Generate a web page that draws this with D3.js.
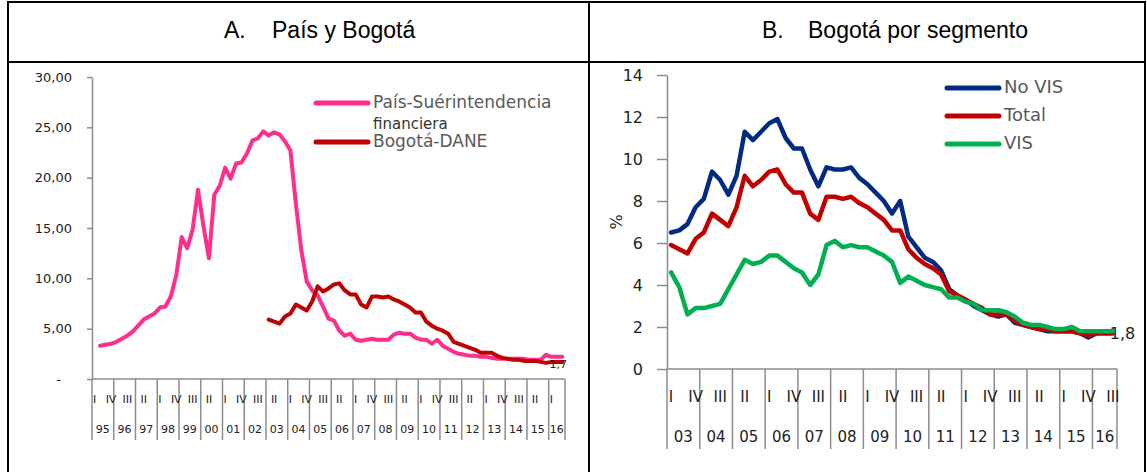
<!DOCTYPE html>
<html>
<head>
<meta charset="utf-8">
<script src="https://cdn.jsdelivr.net/npm/d3@7"></script>
<style>
  body { margin: 0; background: #fff; }
  text { font-family: "DejaVu Sans", sans-serif; }
  text.head { font-family: "Liberation Sans Narrow", "Arial Narrow", "Liberation Sans", Arial, sans-serif; }
</style>
</head>
<body>
<svg id="chart" width="1147" height="472"></svg>
<script>
// A. País y Bogotá, quarterly 1995-I .. 2016-III
const paisSuper = [
    null, 3.3, 3.4, 3.5, 3.7, 4.0, 4.3, 4.7, 5.3, 5.9,
    6.2, 6.5, 7.1, 7.2, 8.2, 10.3, 14.1, 13.0, 14.8, 18.8,
    15.2, 12.0, 18.3, 19.2, 21.0, 19.9, 21.4, 21.5, 22.4, 23.7,
    23.9, 24.6, 24.2, 24.5, 24.3, 23.6, 22.7, 17.4, 12.8, 9.7,
    8.8, 8.3, 7.2, 6.0, 5.8, 4.8, 4.3, 4.5, 3.9, 3.8,
    3.9, 4.0, 3.9, 3.9, 3.9, 4.4, 4.6, 4.5, 4.5, 4.1,
    3.9, 3.9, 3.5, 3.9, 3.3, 3.0, 2.7, 2.5, 2.4, 2.3,
    2.3, 2.2, 2.2, 2.1, 2.0, 2.0, 2.0, 2.0, 2.0, 2.0,
    1.9, 1.9, 1.9, 2.4, 2.2, 2.2, 2.2
]
// B. Bogotá por segmento, quarterly 2003-I .. 2016-III
const total = [
    5.9, 5.7, 5.5, 6.2, 6.5, 7.4, 7.1, 6.8, 7.7, 9.2,
    8.7, 9.0, 9.4, 9.5, 8.8, 8.4, 8.4, 7.4, 7.1, 8.2,
    8.2, 8.1, 8.2, 7.9, 7.7, 7.4, 7.1, 6.6, 6.6, 5.7,
    5.3, 5.0, 4.8, 4.5, 3.7, 3.5, 3.3, 3.1, 2.9, 2.6,
    2.6, 2.6, 2.3, 2.1, 2.0, 1.9, 1.9, 1.8, 1.8, 1.8,
    1.7, 1.6, 1.7, 1.7, 1.7
]
const noVis = [
    6.5, 6.6, 6.9, 7.7, 8.1, 9.4, 9.0, 8.3, 9.2, 11.3,
    10.9, 11.3, 11.7, 11.9, 11.0, 10.5, 10.5, 9.5, 8.7, 9.6,
    9.5, 9.5, 9.6, 9.1, 8.8, 8.4, 8.0, 7.4, 8.0, 6.3,
    5.8, 5.3, 5.1, 4.7, 3.8, 3.5, 3.3, 3.0, 2.8, 2.6,
    2.5, 2.6, 2.2, 2.1, 2.0, 1.9, 1.8, 1.8, 1.8, 1.8,
    1.7, 1.5, 1.7, 1.7, 1.7
]
const vis = [
    4.6, 3.9, 2.6, 2.9, 2.9, 3.0, 3.1, 3.8, 4.5, 5.2,
    5.0, 5.1, 5.4, 5.4, 5.1, 4.8, 4.6, 4.0, 4.5, 5.9,
    6.1, 5.8, 5.9, 5.8, 5.8, 5.6, 5.4, 5.1, 4.1, 4.4,
    4.2, 4.0, 3.9, 3.8, 3.4, 3.4, 3.2, 3.1, 2.8, 2.8,
    2.8, 2.7, 2.5, 2.2, 2.1, 2.1, 2.0, 1.9, 1.9, 2.0,
    1.8, 1.8, 1.8, 1.8, 1.8
]
// Bogotá-DANE in panel A is the same series as Total, starting 2003-I
const bogotaDaneStart = 32
const bogotaDane = paisSuper.map((d, i) => i >= bogotaDaneStart ? total[i - bogotaDaneStart] : null)

const quarterNames = ['I', 'II', 'III', 'IV']
const ticksA = [0, 5, 10, 15, 20, 25, 30]
const ticksB = [0, 2, 4, 6, 8, 10, 12, 14]

function quarters (startYear, count) {
    return d3.range(count).map(i => ({
        i,
        year: startYear + Math.floor(i / 4),
        q: i % 4
    }))
}
const quartersA = quarters(1995, paisSuper.length)
const quartersB = quarters(2003, total.length)

const svg = d3.select('#chart')

// table frame
const frame = svg.append('g').attr('class', 'g-frame')
    .attr('stroke', '#000').attr('stroke-width', 2)
frame.append('line').attr('x1', 8).attr('x2', 1146).attr('y1', 2).attr('y2', 2)
frame.append('line').attr('x1', 8).attr('x2', 1146).attr('y1', 62).attr('y2', 62)
frame.append('line').attr('x1', 8).attr('x2', 8).attr('y1', 1).attr('y2', 472)
frame.append('line').attr('x1', 589).attr('x2', 589).attr('y1', 1).attr('y2', 472)
frame.append('line').attr('x1', 1145).attr('x2', 1145).attr('y1', 1).attr('y2', 472)

const head = svg.append('g').attr('class', 'g-head')
const headItems = [
    { x: 224, t: 'A.' },
    { x: 272, t: 'País y Bogotá' },
    { x: 762, t: 'B.' },
    { x: 808, t: 'Bogotá por segmento' }
]
head.selectAll('text')
    .data(headItems)
    .enter()
    .append('text')
    .attr('class', 'head')
    .attr('x', d => d.x)
    .attr('y', 38)
    .style('font-size', '23px')
    .attr('fill', '#000')
    .text(d => d.t)

function drawCategoryAxis (g, x, qs, y0, y1, rowQ, rowY, fontSize) {
    const axis = g.append('g').attr('class', 'g-axis-x')
    axis.append('line')
        .attr('x1', x.range()[0]).attr('x2', x.range()[1])
        .attr('y1', y0).attr('y2', y0)
        .attr('stroke', '#8c8c8c').attr('stroke-width', 1.5)

    const yearStarts = qs.filter(d => d.q === 0)
    const seps = yearStarts.map(d => x(d.i)).concat([x.range()[1]])
    axis.selectAll('line.sep')
        .data(seps)
        .enter()
        .append('line')
        .attr('class', 'sep')
        .attr('x1', d => d).attr('x2', d => d)
        .attr('y1', y0).attr('y2', y1)
        .attr('stroke', '#8c8c8c').attr('stroke-width', 1.5)

    axis.selectAll('text.q-label')
        .data(qs.filter(d => d.i % 3 === 0))
        .enter()
        .append('text')
        .attr('class', 'q-label')
        .attr('x', d => x(d.i) + x.bandwidth() / 2)
        .attr('y', rowQ)
        .attr('text-anchor', 'middle')
        .attr('dominant-baseline', 'middle')
        .style('font-size', fontSize + 'px')
        .attr('fill', '#222')
        .text(d => quarterNames[d.q])

    axis.selectAll('text.y-label')
        .data(d3.groups(qs, d => d.year))
        .enter()
        .append('text')
        .attr('class', 'y-label')
        .attr('x', d => {
            const items = d[1]
            return (x(items[0].i) + x(items[items.length - 1].i) + x.bandwidth()) / 2
        })
        .attr('y', rowY)
        .attr('text-anchor', 'middle')
        .attr('dominant-baseline', 'middle')
        .style('font-size', fontSize + 'px')
        .attr('fill', '#222')
        .text(d => String(d[0] % 100).padStart(2, '0'))
}

function drawLegend (g, items, x, y0, step, fontSize) {
    const leg = g.append('g').attr('class', 'g-legend')
    items.forEach((d, k) => {
        const y = y0 + k * step
        leg.append('line')
            .attr('x1', x).attr('x2', x + 52)
            .attr('y1', y).attr('y2', y)
            .attr('stroke', d.color).attr('stroke-width', 5)
            .attr('stroke-linecap', 'round')
        leg.append('text')
            .attr('x', x + 57).attr('y', y)
            .attr('dominant-baseline', 'middle')
            .style('font-size', fontSize + 'px')
            .attr('fill', '#595959')
            .text(d.name)
    })
    return leg
}

// ---------- Panel A ----------
const gA = svg.append('g').attr('class', 'g-panel-a')
const xA = d3.scaleBand().domain(quartersA.map(d => d.i)).range([92, 565])
const yA = d3.scaleLinear().domain([0, 30]).range([379, 77])

const axisA = gA.append('g')
    .attr('transform', 'translate(92,0)')
    .call(d3.axisLeft(yA)
        .tickValues(ticksA)
        .tickSize(5)
        .tickSizeOuter(0)
        .tickPadding(15)
        .tickFormat(v => v === 0 ? '-' : d3.format('.2f')(v).replace('.', ',')))
axisA.select('.domain').attr('stroke', '#8c8c8c').attr('stroke-width', 1.5)
axisA.selectAll('.tick line').attr('stroke', '#8c8c8c').attr('stroke-width', 1.5)
axisA.selectAll('.tick text')
    .style('font-family', '"DejaVu Sans", sans-serif')
    .style('font-size', '13px')
    .attr('fill', '#222')
axisA.selectAll('.tick text').filter(d => d === 0).attr('dx', -11)

drawCategoryAxis(gA, xA, quartersA, 379, 440, 400, 430, 11)

const lineA = d3.line()
    .defined(d => d != null)
    .x((d, i) => xA(i) + xA.bandwidth() / 2)
    .y(d => yA(d))

gA.append('path').datum(paisSuper)
    .attr('fill', 'none').attr('stroke', '#ff2d8c').attr('stroke-width', 4)
    .attr('stroke-linejoin', 'round').attr('stroke-linecap', 'round')
    .attr('d', lineA)
gA.append('path').datum(bogotaDane)
    .attr('fill', 'none').attr('stroke', '#c00000').attr('stroke-width', 4)
    .attr('stroke-linejoin', 'round').attr('stroke-linecap', 'round')
    .attr('d', lineA)

gA.append('text')
    .attr('x', xA(bogotaDane.length - 1) - 10)
    .attr('y', yA(bogotaDane[bogotaDane.length - 1]) + 6)
    .style('font-size', '11px')
    .attr('fill', '#222')
    .text('1,7')

drawLegend(gA, [
    { name: 'País-Suérintendencia', color: '#ff2d8c' },
    { name: 'Bogotá-DANE', color: '#c00000' }
], 316, 103, 39, 17)
gA.append('text')
    .attr('x', 373).attr('y', 124)
    .attr('dominant-baseline', 'middle')
    .style('font-size', '15px')
    .attr('fill', '#333')
    .text('financiera')

// ---------- Panel B ----------
const gB = svg.append('g').attr('class', 'g-panel-b')
const xB = d3.scaleBand().domain(quartersB.map(d => d.i)).range([667, 1117])
const yB = d3.scaleLinear().domain([0, 14]).range([369, 75])

const axisB = gB.append('g')
    .attr('transform', 'translate(667,0)')
    .call(d3.axisLeft(yB)
        .tickValues(ticksB)
        .tickSize(10)
        .tickSizeOuter(0)
        .tickPadding(14)
        .tickFormat(d3.format('d')))
axisB.select('.domain').attr('stroke', '#8c8c8c').attr('stroke-width', 1.5)
axisB.selectAll('.tick line').attr('stroke', '#8c8c8c').attr('stroke-width', 1.5)
axisB.selectAll('.tick text')
    .style('font-family', '"DejaVu Sans", sans-serif')
    .style('font-size', '16px')
    .attr('fill', '#222')

gB.append('text')
    .attr('transform', 'translate(622,222) rotate(-90)')
    .attr('text-anchor', 'middle')
    .style('font-size', '16px')
    .attr('fill', '#222')
    .text('%')

drawCategoryAxis(gB, xB, quartersB, 369, 449, 397, 437, 15)

const lineB = d3.line()
    .x((d, i) => xB(i) + xB.bandwidth() / 2)
    .y(d => yB(d))

gB.append('text')
    .attr('x', xB(total.length - 1) + 1)
    .attr('y', yB(total[total.length - 1]) + 6)
    .style('font-size', '16px')
    .attr('fill', '#222')
    .text('1,8')

const seriesB = [
    { name: 'No VIS', color: '#002b80', values: noVis },
    { name: 'Total', color: '#c00000', values: total },
    { name: 'VIS', color: '#00b050', values: vis }
]
gB.selectAll('path.series')
    .data(seriesB)
    .enter()
    .append('path')
    .attr('class', 'series')
    .attr('fill', 'none')
    .attr('stroke', d => d.color)
    .attr('stroke-width', 4.5)
    .attr('stroke-linejoin', 'round')
    .attr('stroke-linecap', 'round')
    .attr('d', d => lineB(d.values))

drawLegend(gB, seriesB, 947, 88, 28, 18)
</script>
</body>
</html>
